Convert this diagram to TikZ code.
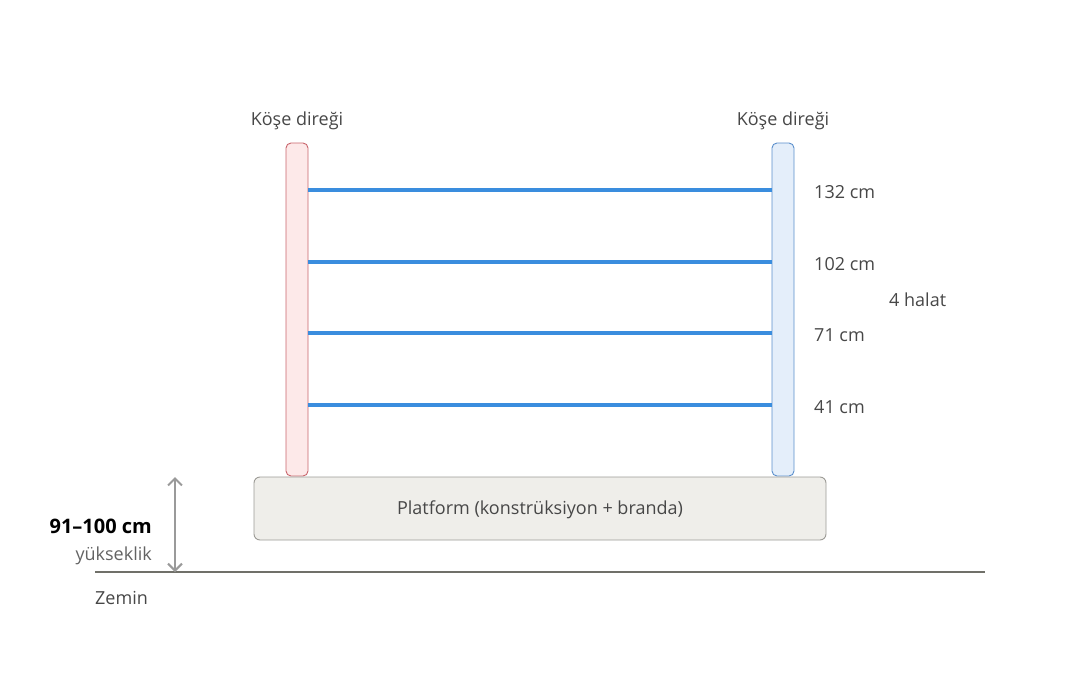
\documentclass[tikz,border=0pt]{standalone}
\usepackage{fontspec}
\setmainfont{Open Sans}
\usetikzlibrary{arrows.meta}
\definecolor{txt}{HTML}{474747}
\definecolor{rope}{HTML}{3A8DDE}
\definecolor{lpostfill}{HTML}{FDE9E9}
\definecolor{lpostdraw}{HTML}{C9646C}
\definecolor{rpostfill}{HTML}{E4EEFA}
\definecolor{rpostdraw}{HTML}{5B8FCC}
\definecolor{platfill}{HTML}{EFEEEA}
\definecolor{platdraw}{HTML}{9C9B96}
\definecolor{ground}{HTML}{707069}
\definecolor{dimc}{HTML}{9A9A9A}
\begin{document}
\begin{tikzpicture}[x=1pt,y=-1pt,
  lbl/.style={text=txt,font=\fontsize{18}{21}\selectfont,inner sep=0pt},
  post/.style={rounded corners=5pt,line width=0.9pt},
  ropeline/.style={rope,line width=3.4pt},
]
\useasboundingbox (0,0) rectangle (1080,683);
% posts
\node[post,draw=lpostdraw,fill=lpostfill,minimum width=22pt,minimum height=333pt,inner sep=0pt] (lp) at (297,309.5) {};
\node[post,draw=rpostdraw,fill=rpostfill,minimum width=22pt,minimum height=333pt,inner sep=0pt] (rp) at (783,309.5) {};
% titles
\node[lbl] (lt) at (297,121) {Köşe direği};
\node[lbl] (rt) at (783,121) {Köşe direği};
% ropes
\foreach \yy/\nm in {190/a,262/b,333/c,405/d}{
  \coordinate (l\nm) at (lp.east |- 0,\yy);
  \coordinate (r\nm) at (rp.west |- 0,\yy);
  \draw[ropeline] (l\nm) -- (r\nm);
}
\node[lbl,anchor=west] (h1) at (814,192) {132 cm};
\node[lbl,anchor=west] (h2) at (814,264) {102 cm};
\node[lbl,anchor=west] (h3) at (814,335) {71 cm};
\node[lbl,anchor=west] (h4) at (814,407) {41 cm};
\node[lbl,anchor=west] (hal) at (889,300) {4 halat};
% platform
\node[draw=platdraw,fill=platfill,rounded corners=6pt,line width=0.9pt,minimum width=572pt,minimum height=63pt,inner sep=0pt] (plat) at (540,508.5) {};
\node[lbl] (platt) at (540,510) {Platform (konstrüksiyon + branda)};
% ground
\coordinate (g1) at (95,572);
\coordinate (g2) at (985,572);
\draw[ground,line width=2.4pt] (g1) -- (g2);
\node[lbl,anchor=west] (zem) at (95,598) {Zemin};
% dimension arrow
\coordinate (at) at (175,477);
\coordinate (ab) at (175,572);
\draw[dimc,line width=2pt,{Straight Barb[length=7pt,width=14pt]}-{Straight Barb[length=7pt,width=14pt]}] (at) -- (ab);
\node[text=black,font=\fontsize{20}{24}\selectfont\bfseries,inner sep=0pt,anchor=east] (dim) at (152,526) {91–100 cm};
\node[lbl,text=txt!85,anchor=east] (yuk) at (152,556) {yükseklik};
\end{tikzpicture}
\end{document}
